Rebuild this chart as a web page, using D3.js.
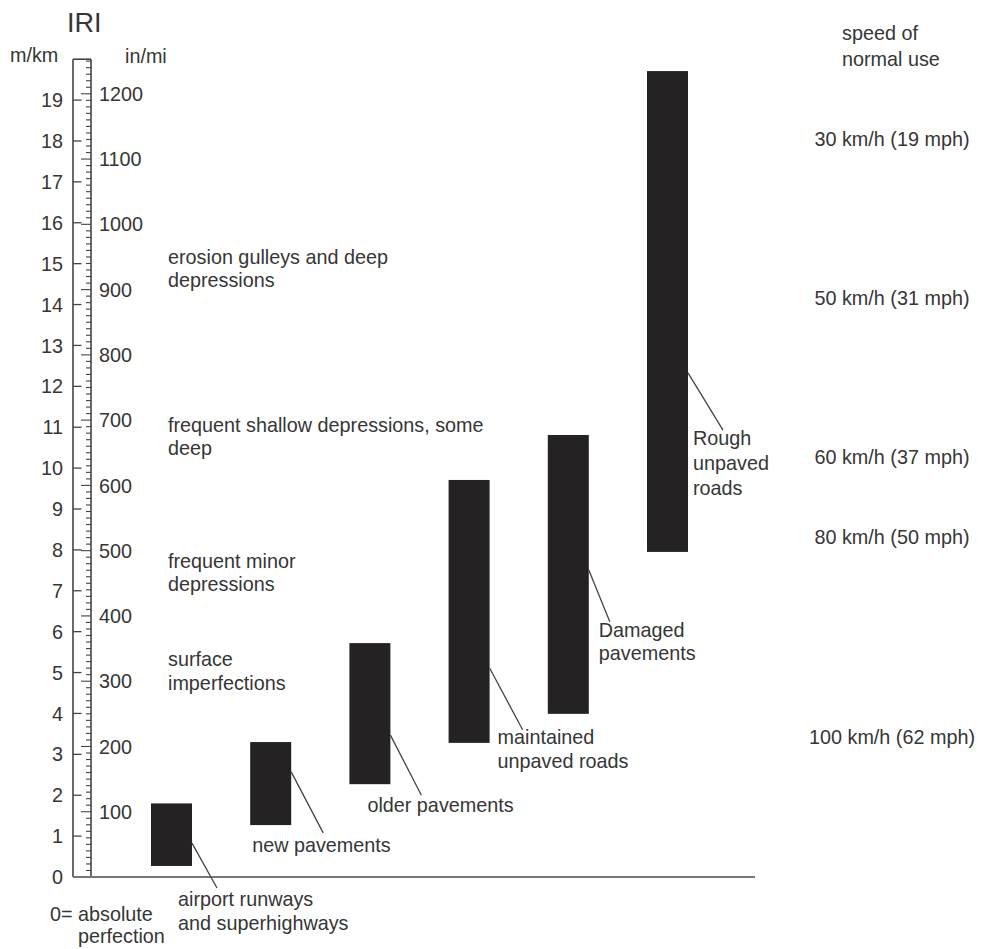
<!DOCTYPE html>
<html>
<head>
<meta charset="utf-8">
<script src="https://cdn.jsdelivr.net/npm/d3@7"></script>
<style>
  html, body { margin: 0; padding: 0; background: #fff; }
  svg text { font-family: "Liberation Sans", Arial, Helvetica, sans-serif; fill: #363636; }
</style>
</head>
<body>
<svg id="chart" width="981" height="949"></svg>
<script>
// ---------------- data ----------------
const categories = ["airport runways and superhighways", "new pavements", "older pavements",
                    "maintained unpaved roads", "Damaged pavements", "Rough unpaved roads"];
const iriLow  = [0.27, 1.27, 2.27, 3.28, 3.99, 7.95];   // m/km
const iriHigh = [1.80, 3.30, 5.72, 9.71, 10.81, 19.71]; // m/km
const barLabels = [["airport runways", "and superhighways"], ["new pavements"], ["older pavements"],
                   ["maintained", "unpaved roads"], ["Damaged", "pavements"], ["Rough", "unpaved", "roads"]];

const mkmTicks = d3.range(0, 20);          // 0..19 labelled
const inmiLabels = d3.range(100, 1300, 100); // 100..1200
const inmiMinor = d3.range(10, 1260, 10);

const descriptions = [["erosion gulleys and deep", "depressions"],
                      ["frequent shallow depressions, some", "deep"],
                      ["frequent minor", "depressions"],
                      ["surface", "imperfections"]];
const descLevel = [15.0, 10.89, 7.56, 5.16]; // IRI (m/km) of first line

const speeds = ["30 km/h (19 mph)", "50 km/h (31 mph)", "60 km/h (37 mph)", "80 km/h (50 mph)", "100 km/h (62 mph)"];
const speedLevel = [18.05, 14.16, 10.27, 8.31, 3.42]; // IRI (m/km)

// annotation layout (leader lines, label anchors) in IRI units / px offsets
const leaderFrom = [0.83, 2.57, 3.47, 5.11, 7.51, 12.33];
const leaderTo   = [-0.27, 1.08, 2.0, 3.6, 6.24, 10.93];
const leaderDx   = [25, 32, 31, 33, 21, 35];
const labelLevel = [-0.70, 0.62, 1.60, 3.25, 5.87, 10.56];
const labelDx    = [-14, -39, -23, 8, 10, 5];
const labelLineH = [24.5, 24, 24, 24, 23.5, 25];

// ---------------- layout ----------------
const svg = d3.select("#chart");
const FS = 19.8;
const scaleL = 73, scaleR = 91, baseEnd = 755;

const y = d3.scaleLinear().domain([0, 20]).range([877, 59.2]);
const yIn = d3.scaleLinear().domain([0, 1253]).range([877, 59.2]);
const x = d3.scalePoint().domain(categories).range([171.5, 667.5]);
const barW = 41;

// title & units
svg.append("text").attr("x", 67).attr("y", 32).attr("font-size", 27).text("IRI");
svg.append("text").attr("x", 10).attr("y", 62).attr("font-size", FS).text("m/km");
svg.append("text").attr("x", 125).attr("y", 63).attr("font-size", FS).text("in/mi");

// scale ruler
const g = svg.append("g");
g.append("line").attr("x1", scaleL).attr("x2", scaleL).attr("y1", y(20)).attr("y2", y(0))
  .attr("stroke", "#444").attr("stroke-width", 1.6);
g.append("line").attr("x1", scaleR).attr("x2", scaleR).attr("y1", y(20)).attr("y2", y(0))
  .attr("stroke", "#444").attr("stroke-width", 1.6);
g.append("line").attr("x1", scaleL).attr("x2", scaleR).attr("y1", y(20)).attr("y2", y(20))
  .attr("stroke", "#444").attr("stroke-width", 1.6);
// baseline
g.append("line").attr("x1", scaleL).attr("x2", baseEnd).attr("y1", y(0)).attr("y2", y(0))
  .attr("stroke", "#777").attr("stroke-width", 1.8);

// m/km ticks (left, inward)
g.selectAll("line.mk").data(mkmTicks.filter(d => d > 0)).join("line").attr("class", "mk")
  .attr("x1", scaleL).attr("x2", scaleL + 8.5).attr("y1", d => y(d)).attr("y2", d => y(d))
  .attr("stroke", "#444").attr("stroke-width", 1.3);
g.selectAll("text.mk").data(mkmTicks).join("text").attr("class", "mk")
  .attr("x", 63).attr("y", d => y(d)).attr("dy", "0.36em").attr("text-anchor", "end")
  .attr("font-size", FS).text(d => d);

// in/mi ticks (right, inward)
g.selectAll("line.im").data(inmiMinor).join("line").attr("class", "im")
  .attr("x1", d => d % 100 === 0 ? scaleR - 10 : scaleR - 5).attr("x2", scaleR)
  .attr("y1", d => yIn(d)).attr("y2", d => yIn(d))
  .attr("stroke", "#444").attr("stroke-width", 1.1);
g.selectAll("text.im").data(inmiLabels).join("text").attr("class", "im")
  .attr("x", 99).attr("y", d => yIn(d)).attr("dy", "0.36em")
  .attr("font-size", FS).text(d => d);

// "0= absolute perfection"
svg.append("text").attr("x", 50).attr("y", 920.5).attr("font-size", FS).text("0= absolute");
svg.append("text").attr("x", 78).attr("y", 943).attr("font-size", FS).text("perfection");

// descriptions
descriptions.forEach((lines, i) => {
  const t = svg.append("text").attr("x", 168).attr("y", y(descLevel[i])).attr("font-size", FS);
  lines.forEach((l, j) => t.append("tspan").attr("x", 168).attr("dy", j === 0 ? 0 : 23.5).text(l));
});

// bars
svg.selectAll("rect.bar").data(categories).join("rect").attr("class", "bar")
  .attr("x", d => x(d) - barW / 2).attr("width", barW)
  .attr("y", (d, i) => y(iriHigh[i])).attr("height", (d, i) => y(iriLow[i]) - y(iriHigh[i]))
  .attr("fill", "#252223");

// leader lines
svg.selectAll("line.leader").data(categories).join("line").attr("class", "leader")
  .attr("x1", d => x(d) + barW / 2).attr("y1", (d, i) => y(leaderFrom[i]))
  .attr("x2", (d, i) => x(d) + barW / 2 + leaderDx[i]).attr("y2", (d, i) => y(leaderTo[i]))
  .attr("stroke", "#444").attr("stroke-width", 1.3);

// bar labels
categories.forEach((c, i) => {
  const lx = x(c) + barW / 2 + labelDx[i];
  const t = svg.append("text").attr("x", lx).attr("y", y(labelLevel[i])).attr("font-size", FS);
  barLabels[i].forEach((l, j) => t.append("tspan").attr("x", lx).attr("dy", j === 0 ? 0 : labelLineH[i]).text(l));
});

// speed of normal use
const hs = svg.append("text").attr("x", 842).attr("y", 40).attr("font-size", FS);
hs.append("tspan").attr("x", 842).text("speed of");
hs.append("tspan").attr("x", 842).attr("dy", 25.5).text("normal use");
svg.selectAll("text.speed").data(speeds).join("text").attr("class", "speed")
  .attr("x", 892).attr("y", (d, i) => y(speedLevel[i])).attr("dy", "0.36em")
  .attr("text-anchor", "middle").attr("font-size", FS).text(d => d);
</script>
</body>
</html>
